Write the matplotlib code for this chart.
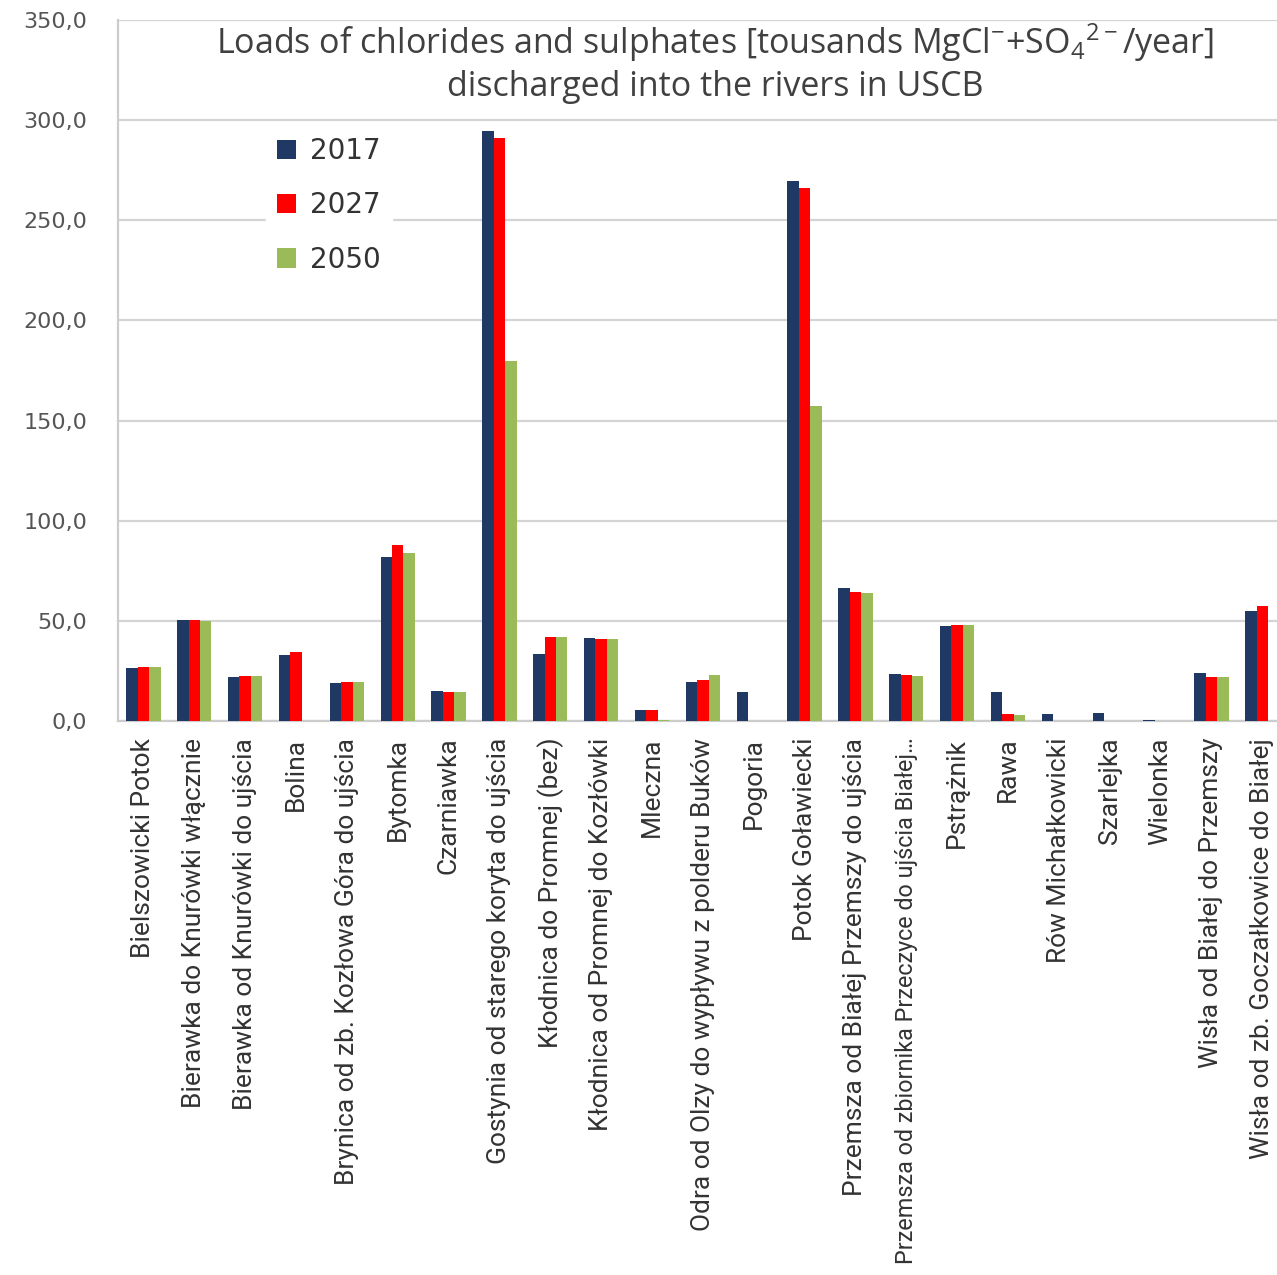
import matplotlib
matplotlib.use("Agg")
import matplotlib.pyplot as plt
import numpy as np
from matplotlib.ticker import FuncFormatter, MultipleLocator

# Rzeki / odcinki
categories = [
    "Bielszowicki Potok", "Bierawka do Knurówki włącznie",
    "Bierawka od Knurówki do ujścia", "Bolina",
    "Brynica od zb. Kozłowa Góra do ujścia", "Bytomka", "Czarniawka",
    "Gostynia od starego koryta do ujścia", "Kłodnica do Promnej (bez)",
    "Kłodnica od Promnej do Kozłówki", "Mleczna",
    "Odra od Olzy do wypływu z polderu Buków", "Pogoria", "Potok Goławiecki",
    "Przemsza od Białej Przemszy do ujścia",
    "Przemsza od zbiornika Przeczyce do ujścia Białej…", "Pstrążnik", "Rawa",
    "Rów Michałkowicki", "Szarlejka", "Wielonka",
    "Wisła od Białej do Przemszy", "Wisła od zb. Goczałkowice do Białej",
]

years = ["2017", "2027", "2050"]
v2017 = [26.5, 50.5, 22.0, 33.0, 19.0, 82.0, 15.0, 294.5, 33.5, 41.5, 5.5, 19.5,
         14.5, 269.5, 66.5, 23.5, 47.5, 14.3, 3.5, 4.2, 0.7, 24.0, 55.0]
v2027 = [27.2, 50.5, 22.5, 34.7, 19.5, 88.0, 14.5, 291.0, 42.0, 41.0, 5.5, 20.5,
         0.0, 266.0, 64.5, 23.0, 48.0, 3.3, 0.0, 0.0, 0.0, 22.0, 57.3]
v2050 = [27.0, 50.0, 22.5, 0.0, 19.5, 84.0, 14.5, 179.5, 41.8, 40.8, 0.4, 22.8,
         0.0, 157.5, 64.0, 22.7, 47.8, 3.0, 0.0, 0.0, 0.0, 21.8, 0.0]

colors = ["#1f3864", "#ff0000", "#9bbb59"]

plt.rcParams["mathtext.fontset"] = "custom"
plt.rcParams["mathtext.rm"] = "Open Sans"
plt.rcParams["mathtext.it"] = "Open Sans"
plt.rcParams["mathtext.bf"] = "Open Sans"

W, H = 1277, 1275
fig = plt.figure(figsize=(W / 100, H / 100), dpi=100)

# Achse reicht rechts etwas über das Bild hinaus (wie im Original abgeschnitten)
step = 50.86
ax_left, ax_top, ax_bottom = 118, 20, 721
ax_width = len(categories) * step
ax = fig.add_axes([ax_left / W, 1 - ax_bottom / H, ax_width / W, (ax_bottom - ax_top) / H])

x = np.arange(len(categories))
bw = 0.225
for i, (vals, lab) in enumerate(zip([v2017, v2027, v2050], years)):
    ax.bar(x + (i - 1) * bw, vals, width=bw, color=colors[i], label=lab, zorder=3)

ax.set_xlim(-0.5, len(categories) - 0.5)
ax.set_ylim(0, 350)
ax.yaxis.set_major_locator(MultipleLocator(50))
ax.yaxis.set_major_formatter(FuncFormatter(lambda v, p: f"{v:.1f}".replace(".", ",")))
ax.grid(axis="y", color="#d4d4d4", lw=1.6, zorder=0)
ax.set_axisbelow(True)

for s in ["top", "right"]:
    ax.spines[s].set_visible(False)
for s in ["left", "bottom"]:
    ax.spines[s].set_color("#cccccc")
    ax.spines[s].set_linewidth(1.6)

ax.tick_params(axis="y", length=0, pad=22, labelsize=16, labelcolor="#555555")
ax.tick_params(axis="x", length=0, pad=12)
ax.set_xticks(x)
ax.set_xticklabels(categories, rotation=90, fontsize=19, color="#333333",
                   family="Roboto", va="top", ha="center")
# der lange Text passt sonst nicht ins Bild
ax.get_xticklabels()[15].set_fontsize(16.8)

title_1 = "Loads of chlorides and sulphates [tousands MgCl$^{-}$+SO$_{4}$$^{2-}$/year]"
title_2 = "discharged into the rivers in USCB"
fig.text(715 / W, 1 - 43 / H, title_1, ha="center", va="center",
         fontsize=24.5, color="#404040", family="Open Sans")
fig.text(715 / W, 1 - 87 / H, title_2, ha="center", va="center",
         fontsize=24.5, color="#404040", family="Open Sans")

leg = ax.legend(loc="upper left", bbox_to_anchor=(252 / W, 1 - 112 / H),
                bbox_transform=fig.transFigure, frameon=True, fontsize=20,
                handlelength=0.7, handleheight=0.7, handletextpad=0.5,
                labelspacing=0.95, borderpad=0.4, fancybox=False)
leg.get_frame().set_edgecolor("white")
leg.get_frame().set_facecolor("white")
leg.get_frame().set_alpha(1)
for t in leg.get_texts():
    t.set_color("#333333")

fig.savefig("out.png", dpi=100)
